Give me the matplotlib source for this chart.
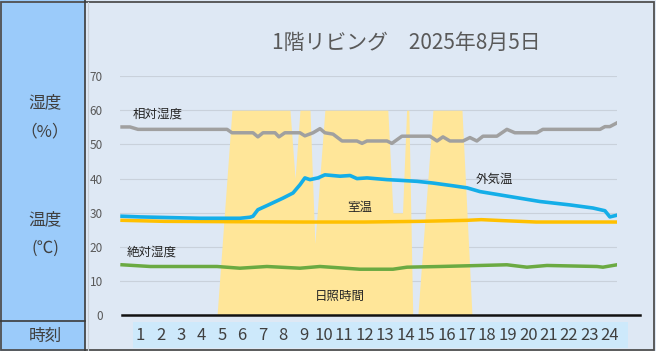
import matplotlib.pyplot as plt
from matplotlib.patches import Rectangle

plt.rcParams['font.family'] = ['Noto Sans CJK JP', 'DejaVu Sans']

# 時刻 (時) と各系列の値
hours = list(range(1, 25))

# 日照時間 (帯グラフ, 0/60)
sun_h = [4.77, 5.50, 8.34, 8.59, 8.83, 9.32, 9.56, 10.05, 13.13, 13.38, 13.85,
         14.05, 14.16, 14.35, 14.60, 15.34, 16.76, 17.25]
sun_v = [0, 60, 60, 40, 60, 60, 21, 60, 60, 30, 30, 60, 60, 0, 0, 60, 60, 0]

# 相対湿度 (%)
rh_h = [0.12, 0.51, 0.9, 5.26, 5.50, 6.53, 6.77, 7.02, 7.61, 7.80, 8.09, 8.83,
        9.07, 9.47, 9.81, 10.05, 10.45, 10.89, 11.62, 11.87, 12.11, 13.09, 13.33,
        13.82, 15.19, 15.54, 15.83, 16.17, 16.81, 17.15, 17.49, 17.79, 18.47,
        18.96, 19.35, 20.43, 20.72, 23.52, 23.76, 24.0, 24.35]
rh_v = [55.1, 55.1, 54.4, 54.4, 53.4, 53.4, 52.2, 53.4, 53.4, 52.2, 53.4, 53.4,
        52.5, 53.4, 54.6, 53.4, 53.0, 51.0, 51.0, 50.3, 51.0, 51.0, 50.3,
        52.4, 52.4, 51.0, 52.2, 51.0, 51.0, 52.0, 51.0, 52.4, 52.4,
        54.4, 53.4, 53.4, 54.4, 54.4, 55.2, 55.2, 56.3]

# 外気温 (℃)
out_h = [0.12, 1.0, 2.47, 3.94, 5.89, 6.38, 6.53, 6.77, 7.21, 8.0, 8.49, 8.83,
         9.07, 9.32, 9.71, 10.05, 10.79, 11.28, 11.62, 12.11, 13.09, 13.72,
         14.56, 15.34, 16.32, 17.01, 17.64, 19.26, 20.58, 22.05, 23.17, 23.76,
         24.0, 24.35]
out_v = [29.0, 28.8, 28.6, 28.4, 28.4, 28.7, 29.0, 30.9, 32.1, 34.3, 35.8, 38.2,
         40.2, 39.7, 40.2, 41.1, 40.7, 40.9, 40.0, 40.2, 39.7, 39.5,
         39.2, 38.7, 37.9, 37.3, 36.2, 34.6, 33.3, 32.3, 31.4, 30.6,
         28.8, 29.3]

# 室温 (℃)
room_h = [0.12, 2.2, 5.4, 9.0, 12.0, 14.7, 17.0, 17.7, 18.8, 20.4, 22.0, 24.35]
room_v = [27.8, 27.5, 27.4, 27.3, 27.3, 27.5, 27.8, 28.0, 27.7, 27.3, 27.3, 27.3]

# 絶対湿度 (g/m3)
ah_h = [0.12, 1.5, 4.77, 5.89, 7.21, 8.83, 9.81, 11.76, 13.38, 14.07, 15.68,
        18.96, 19.94, 20.92, 23.37, 23.66, 24.35]
ah_v = [14.8, 14.3, 14.3, 13.8, 14.3, 13.8, 14.3, 13.5, 13.5, 14.1, 14.3,
        14.8, 14.1, 14.6, 14.3, 14.1, 14.8]

fig = plt.figure(figsize=(6.56, 3.51), dpi=100)
fig.patch.set_facecolor('#DEE8F4')

# 左側の見出し欄
fig.patches.append(Rectangle((0, 0), 85 / 656, 1, transform=fig.transFigure,
                             facecolor='#9BCBFA', edgecolor='none', zorder=0))
fig.add_artist(plt.Line2D([85 / 656, 85 / 656], [0, 1], color='#3A3A3A', lw=1.2))
fig.add_artist(plt.Line2D([0, 85 / 656], [30 / 351, 30 / 351], color='#3A3A3A', lw=1.2))
fig.add_artist(plt.Line2D([87.5 / 656, 87.5 / 656], [0, 0.995], color='#C8CED6', lw=0.8))
fig.add_artist(Rectangle((0.002, 0.003), 0.995, 0.992, transform=fig.transFigure,
                         fill=False, edgecolor='#505050', lw=1.3))

# 時刻ラベルの帯
fig.patches.append(Rectangle((133 / 656, 3 / 351), 495 / 656, 26 / 351,
                             transform=fig.transFigure, facecolor='#CDE9FB',
                             edgecolor='none', zorder=0))

side = dict(ha='center', va='center', fontsize=12, color='#404040')
fig.text(0.0686, 0.707, '湿度', **side)
fig.text(0.0686, 0.624, '（%）', **side)
fig.text(0.0686, 0.373, '温度', **side)
fig.text(0.0686, 0.293, '(℃)', **side)
fig.text(0.0686, 0.040, '時刻', **side)

fig.text(0.619, 0.877, '1階リビング　2025年8月5日', ha='center', va='center',
         fontsize=15, color='#595959')

ax = fig.add_axes([119.6 / 656, 35.6 / 351, 497.4 / 656, 239.4 / 351])
ax.set_zorder(2)
ax.set_facecolor('none')
ax.set_xlim(0, 24.35)
ax.set_ylim(0, 70)

ax.set_yticks(range(0, 71, 10))
for yv in range(10, 71, 10):
    ax.axhline(yv, color='#C9D1DB', lw=0.8, zorder=0)

ax.fill_between(sun_h, sun_v, color='#FFE699', lw=0, zorder=1)

ax.plot(rh_h, rh_v, color='#A0A0A0', lw=2.5, zorder=3)
ax.plot(out_h, out_v, color='#14AEE8', lw=2.6, zorder=4)
ax.plot(room_h, room_v, color='#FFC000', lw=2.5, zorder=3)
ax.plot(ah_h, ah_v, color='#6BAA42', lw=2.5, zorder=3)

# 0の基準線 (右側へはみ出す)
ax.plot([0.005, 1.047], [0, 0], transform=ax.get_yaxis_transform(),
        color='#111111', lw=1.8, clip_on=False, zorder=5)

lab = dict(ha='center', va='center', fontsize=9, color='#262626', zorder=6)
ax.text(1.88, 58.8, '相対湿度', **lab)
ax.text(1.59, 18.6, '絶対湿度', **lab)
ax.text(18.33, 39.7, '外気温', **lab)
ax.text(11.77, 31.5, '室温', **lab)
ax.text(10.8, 5.4, '日照時間', **lab)

ax.set_xticks(hours)
ax.set_xticklabels([str(h) for h in hours], fontsize=12, color='#404040')
ax.tick_params(axis='x', length=0, pad=8)
ax.tick_params(axis='y', length=0, pad=12, labelsize=8.5, labelcolor='#595959')
for s in ax.spines.values():
    s.set_visible(False)

plt.savefig('out.png', dpi=100, facecolor=fig.get_facecolor())
